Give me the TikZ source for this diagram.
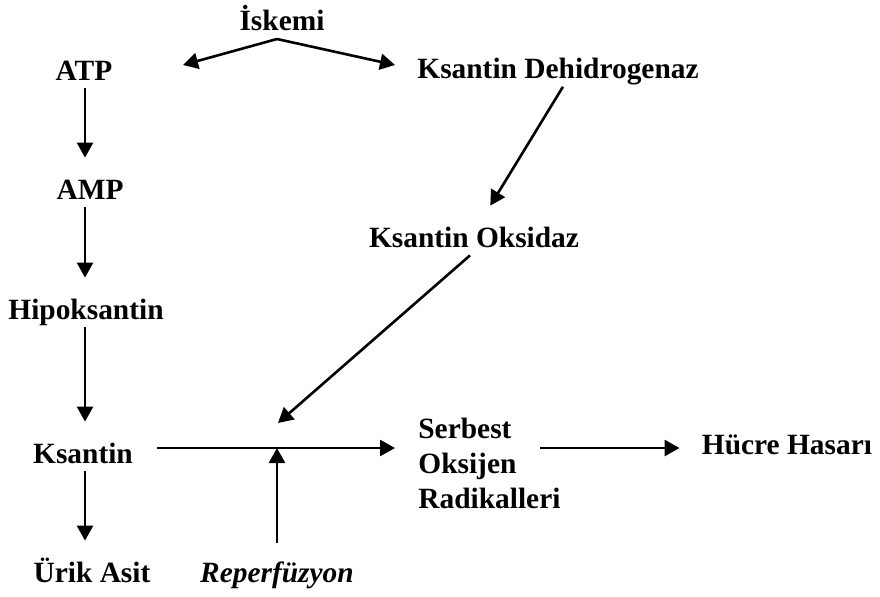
\documentclass[tikz,border=0pt]{standalone}
\usepackage{fontspec}
\setmainfont{Liberation Serif}
\usetikzlibrary{arrows.meta,positioning}

\tikzset{
  lbl/.style={font=\fontsize{14.7}{17.5}\selectfont\bfseries, inner sep=0pt,
    text height=10pt, text depth=2.5pt, anchor=base},
  arr/.style={-{Triangle[length=7.5pt,width=8pt]}, line width=1.3pt},
}

\begin{document}
\begin{tikzpicture}[x=0.5pt,y=-0.5pt]
  \useasboundingbox (0,0) rectangle (880,596);

  % top: trigger and the two things it acts on
  \node[lbl] (iskemi) at (282,30) {İskemi};
  \node[lbl] (atp) at (84,80) {ATP};
  \node[lbl] (dehid) at (558,78) {Ksantin Dehidrogenaz};
  \coordinate (apex) at (277,39);
  \coordinate (ltip) at (183,65);
  \coordinate (rtip) at (395,65);
  \draw[arr] (apex) -- (ltip);
  \draw[arr] (apex) -- (rtip);

  % left column, breakdown of ATP
  \coordinate (col) at (85,0);
  \node[lbl] (amp) at (90,199) {AMP};
  \node[lbl] (hipo) at (86,319) {Hipoksantin};
  \node[lbl] (ksantin) at (83,463) {Ksantin};
  \node[lbl] (urik) at (92,582) {Ürik Asit};
  \foreach \a/\b in {atp/amp, amp/hipo, hipo/ksantin, ksantin/urik}
    \draw[arr, shorten <=1.5pt, shorten >=10.5pt] (\a.south -| col) -- (\b.north -| col);

  % enzyme conversion
  \node[lbl] (oksidaz) at (474,247) {Ksantin Oksidaz};
  \draw[arr, shorten <=2pt, shorten >=12.3pt]
    ([xshift=3.5pt]dehid.south) -- ([xshift=1.75pt]oksidaz.north);

  % junction where the oxidase and reperfusion meet the ksantin line
  \coordinate (mix) at (277,448);
  \coordinate (otip) at (278,423);
  \draw[arr] ([xshift=-2pt,yshift=-1.5pt]oksidaz.south) -- (otip);

  \node[lbl, font=\fontsize{14.7}{17.5}\selectfont\bfseries\itshape] (reperf) at (277,582) {Reperfüzyon};
  \draw[arr, shorten <=9.5pt] (reperf.north) -- (reperf.north |- mix);

  % radicals and damage
  \node[lbl, text height=, text depth=, align=left, anchor=west] (radikal) at (418,463)
    {Serbest\\Oksijen\\Radikalleri};
  \draw[arr, shorten <=12pt, shorten >=11.5pt] (ksantin.east |- mix) -- (radikal.west |- mix);

  \node[lbl] (hucre) at (787,454) {Hücre Hasarı};
  \coordinate (hstart) at (540,448);
  \draw[arr, shorten >=11pt] (hstart) -- (hucre.west |- mix);
\end{tikzpicture}
\end{document}
